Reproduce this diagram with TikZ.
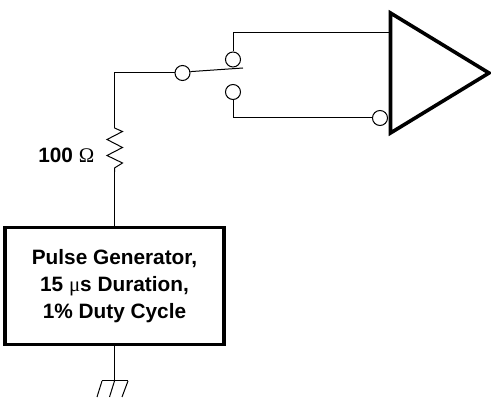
\documentclass[tikz,border=0pt]{standalone}
\usepackage{fontspec}
\setmainfont{Liberation Sans}
\newfontfamily\symfont{Liberation Serif}
\tikzset{
  wire/.style={line width=1pt,line join=miter},
  term/.style={circle,draw,fill=white,line width=1pt,minimum size=15pt,inner sep=0pt},
  heavy/.style={line width=3.6pt,line join=miter},
  lbl/.style={font=\fontsize{20.8}{27}\selectfont\bfseries,align=center,inner sep=0pt},
  genbox/.style={draw,line width=3.6pt,minimum width=219pt,minimum height=117pt,inner sep=0pt}
}
\begin{document}
\begin{tikzpicture}[x=1pt,y=-1pt]
\useasboundingbox (0,0) rectangle (491,398);
% amplifier
\coordinate (ampT) at (390.5,13);
\coordinate (ampB) at (390.5,133);
\coordinate (ampA) at (489,73);
\coordinate (inP) at (390.5,33);
% terminals
\node[term] (t1) at (233,59.5) {};
\node[term] (t2) at (233,92) {};
\node[term] (com) at (182.5,73) {};
\node[term] (inN) at (380,118) {};
% generator
\node[genbox,lbl] (gen) at (114.5,286) {Pulse Generator,\\15 {\symfont\mdseries μ}s Duration,\\1\% Duty Cycle};
% resistor
\coordinate (rT) at (114.5,128);
\coordinate (rB) at (114.5,172);
\node[lbl,anchor=east] (rl) at (94.5,155) {100 {\symfont\mdseries Ω}};
% ground
\coordinate (gnd) at (114.5,381);
\coordinate (gL) at (102,381);
\coordinate (gR) at (128,381);
\coordinate (s1) at (97,397);
\coordinate (s2) at (109.5,397);
\coordinate (s3) at (122,397);
% wires
\draw[wire] (t1) -- (t1.center |- inP) -- (inP);
\draw[wire] (t2) -- (t2.center |- inN) -- (inN);
\draw[wire] (com) -- (rT |- com) -- (rT);
\draw[wire] (com.10) -- (243,68);
\draw[wire] (rT) -- (122.5,131.5) -- (107,139.5) -- (122.5,147.5) -- (107,155.5) -- (122.5,163) -- (114.5,168) -- (rB);
\draw[wire] (rB) -- (gen.north -| rB);
\draw[wire] (gen.south -| gnd) -- (gnd);
\draw[wire] (gL) -- (gR);
\draw[wire] (gL) -- (s1);
\draw[wire] (gnd) -- (s2);
\draw[wire] (gR) -- (s3);
\draw[heavy] (ampT) -- (ampA) -- (ampB) -- cycle;
\end{tikzpicture}
\end{document}
